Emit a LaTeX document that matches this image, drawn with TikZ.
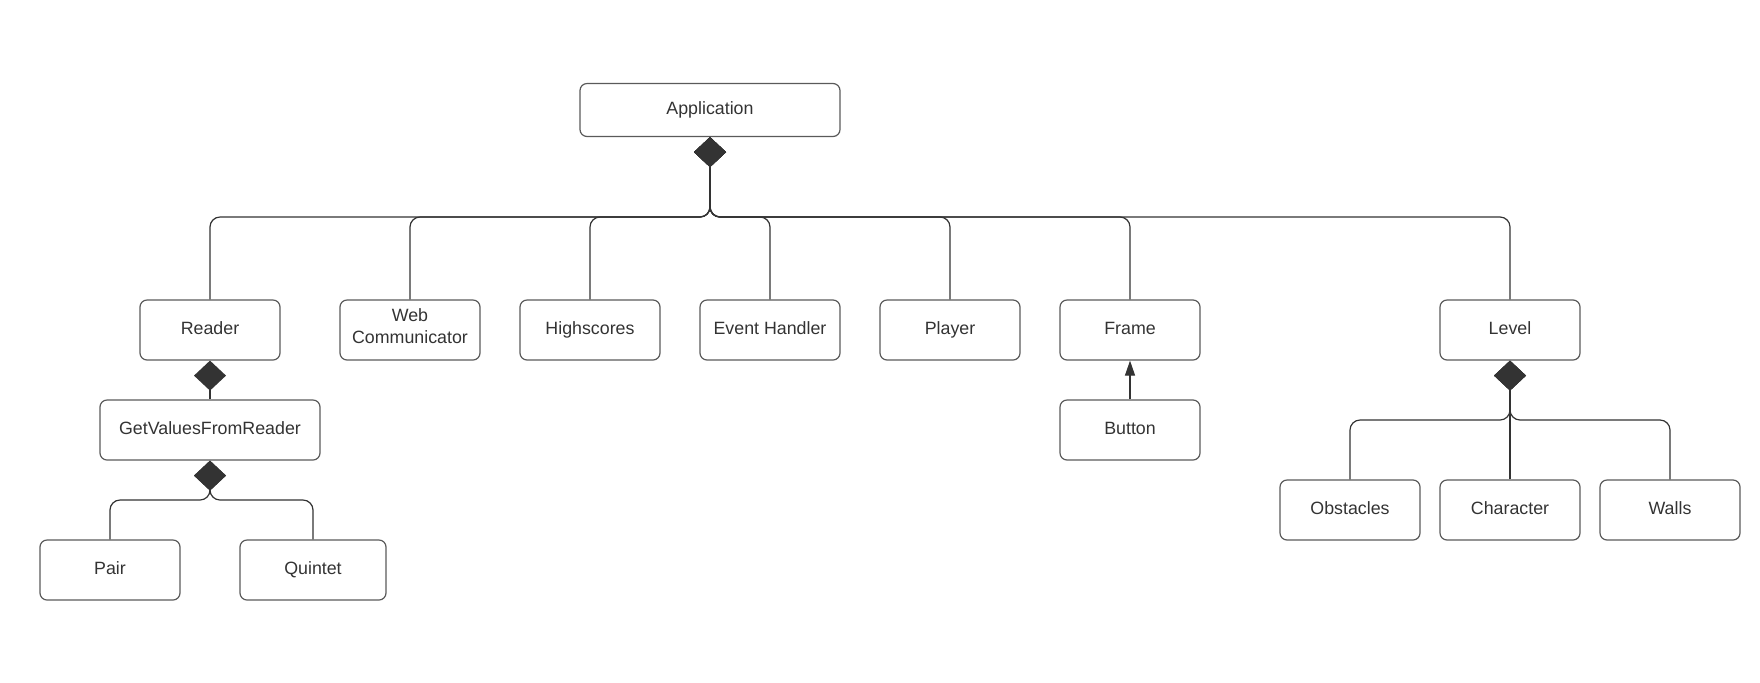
\documentclass[tikz,border=0pt]{standalone}
\usepackage{fontspec}
\setmainfont{Liberation Sans}
\usetikzlibrary{arrows.meta, positioning}
\definecolor{linegray}{HTML}{333333}
\definecolor{boxgray}{HTML}{5A5A5A}
\tikzstyle{classbox} = [draw=boxgray, line width=0.6pt, rounded corners=3.5pt,
  minimum width=70pt, minimum height=30pt, inner sep=0pt, align=center,
  text height=6.4pt, text depth=1.8pt,
  text=linegray, font=\fontsize{8.9pt}{10.6pt}\selectfont]
\tikzstyle{comp} = [linegray, line width=0.6pt, rounded corners=5pt,
  -{Diamond[length=15pt, width=16pt]}]
\tikzstyle{inherit} = [linegray, line width=0.6pt, -{Triangle[length=7.5pt, width=5pt]}]

\begin{document}
\begin{tikzpicture}[x=0.5pt, y=-0.5pt]
    \useasboundingbox (0,0) rectangle (1760,682);

    % Top class
    \node[classbox, minimum width=130pt, minimum height=26.5pt] (app) at (710,110) {Application};

    % First row
    \node[classbox] (reader)     at (210,330)  {Reader};
    \node[classbox, text height=, text depth=4pt] (webcom) at (410,330) {Web\\Communicator};
    \node[classbox] (highscores) at (590,330)  {Highscores};
    \node[classbox] (events)     at (770,330)  {Event Handler};
    \node[classbox] (player)     at (950,330)  {Player};
    \node[classbox] (frame)      at (1130,330) {Frame};
    \node[classbox] (level)      at (1510,330) {Level};

    % Reader branch
    \node[classbox, minimum width=110pt] (getvalues) at (210,430) {GetValuesFromReader};
    \node[classbox] (pair)    at (110,570) {Pair};
    \node[classbox, minimum width=73pt] (quintet) at (313,570) {Quintet};

    % Frame branch
    \node[classbox] (button) at (1130,430) {Button};

    % Level branch
    \node[classbox] (obstacles) at (1350,510) {Obstacles};
    \node[classbox] (character) at (1510,510) {Character};
    \node[classbox] (walls)     at (1670,510) {Walls};

    % Bus junctions
    \coordinate (appbus)   at (710,217);
    \coordinate (gvbus)    at (210,500);
    \coordinate (levelbus) at (1510,420);

    % Composition to Application
    \foreach \c in {reader,webcom,highscores,events,player,frame,level}
      \draw[comp] (\c.north) |- (appbus) -- (app.south);

    % Composition inside Reader branch
    \draw[comp] (getvalues.north) -- (reader.south);
    \foreach \c in {pair,quintet}
      \draw[comp] (\c.north) |- (gvbus) -- (getvalues.south);

    % Composition inside Level branch
    \foreach \c in {obstacles,walls}
      \draw[comp] (\c.north) |- (levelbus) -- (level.south);
    \draw[comp] (character.north) -- (level.south);

    % Button extends Frame
    \draw[inherit] (button.north) -- (frame.south);
\end{tikzpicture}
\end{document}
